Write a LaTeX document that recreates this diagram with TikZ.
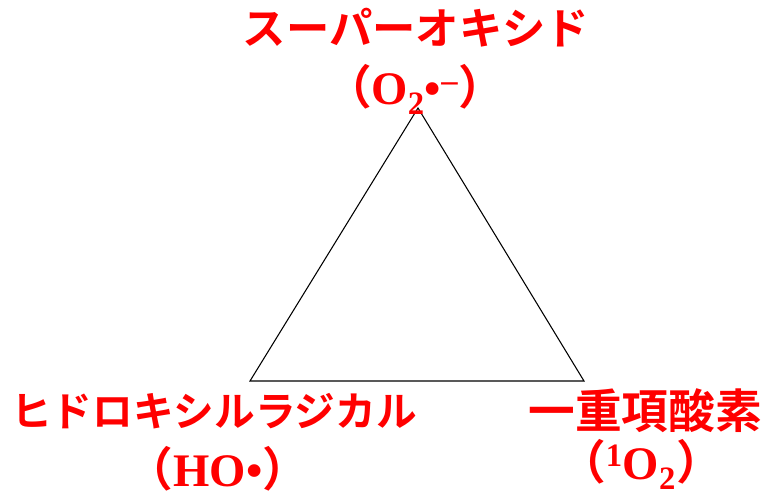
\documentclass[tikz,border=0pt]{standalone}
\usepackage{fontspec}
\setmainfont{Liberation Serif}
\newfontfamily\jpfont{Noto Sans CJK JP}[BoldFont={Noto Sans CJK JP Bold}]
\tikzset{
  namelbl/.style={text=red, inner sep=0pt, font=\jpfont\bfseries\fontsize{32.5}{36}\selectfont},
  formlbl/.style={text=red, inner sep=0pt, anchor=base, font=\bfseries\fontsize{35}{40}\selectfont},
}
\newcommand{\jpl}{{\jpfont\bfseries （}}
\newcommand{\jpr}{{\jpfont\bfseries ）}}
\begin{document}
\begin{tikzpicture}[x=0.75pt,y=-0.75pt]
\useasboundingbox (0,0) rectangle (769,496);
% triangle
\coordinate (top) at (418,108);
\coordinate (left) at (250,381);
\coordinate (right) at (584,381);
\draw[thick] (top) -- (left) -- (right) -- cycle;

% top corner
\node[namelbl] (supername) at (416,28) {スーパーオキシド};
\node[formlbl] (superform) at (415,104) {\jpl O\textsubscript{2}•\textsuperscript{--}\jpr};

% left corner
\node[namelbl, font=\jpfont\bfseries\fontsize{30.5}{36}\selectfont] (hydroname) at (214,411) {ヒドロキシルラジカル};
\node[formlbl] (hydroform) at (218,486) {\jpl HO•\jpr};

% right corner
\node[namelbl, font=\jpfont\bfseries\fontsize{35}{40}\selectfont] (singname) at (645,411) {一重項酸素};
\node[formlbl] (singform) at (641,479) {\jpl\textsuperscript{1}O\textsubscript{2}\jpr};
\end{tikzpicture}
\end{document}
